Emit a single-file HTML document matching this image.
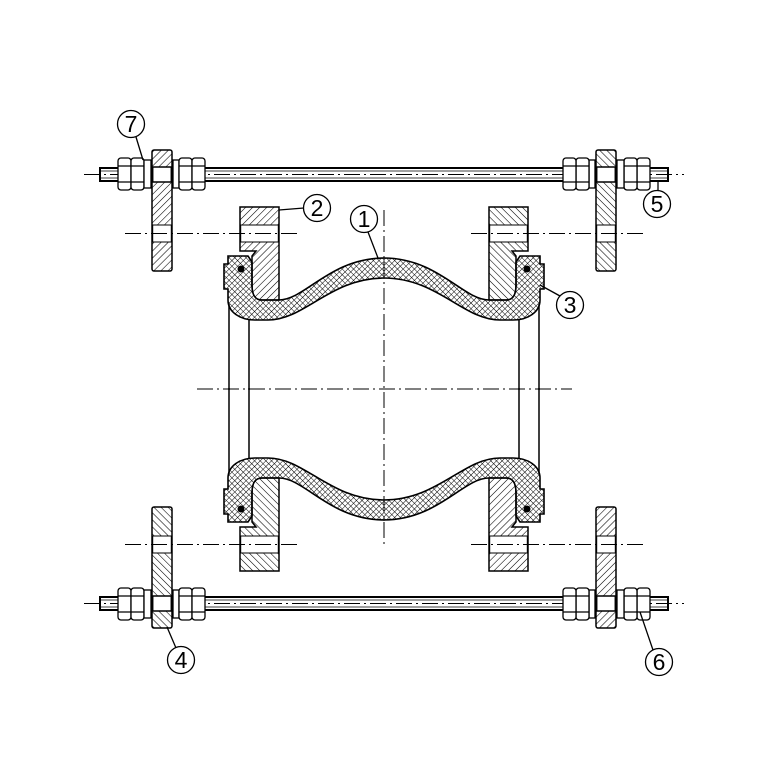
<!DOCTYPE html>
<html><head><meta charset="utf-8"><style>
html,body{margin:0;padding:0;background:#fff;}
svg{display:block;}
text{font-family:"Liberation Sans",sans-serif;font-size:23px;fill:#000;}
</style></head><body>
<svg width="768" height="768" viewBox="0 0 768 768" xmlns="http://www.w3.org/2000/svg">
<defs>
<pattern id="h" patternUnits="userSpaceOnUse" width="5" height="5" patternTransform="rotate(45)">
<line x1="0" y1="0" x2="0" y2="5" stroke="#000" stroke-width="1.1"/>
</pattern>
<pattern id="x" patternUnits="userSpaceOnUse" width="4" height="4" patternTransform="rotate(45)">
<line x1="0" y1="0" x2="0" y2="4" stroke="#000" stroke-width="1"/>
<line x1="0" y1="0" x2="4" y2="0" stroke="#000" stroke-width="1"/>
</pattern>
<g id="q">
<!-- nuts -->
<g fill="#fff" stroke="#000" stroke-width="1.3">
<rect x="118" y="158" width="13" height="32" rx="3"/>
<rect x="131" y="158" width="13" height="32" rx="3"/>
<line x1="118" y1="166" x2="144" y2="166"/><line x1="118" y1="182" x2="144" y2="182"/>
<rect x="144" y="160" width="7" height="28"/>
<rect x="173" y="160" width="6" height="28"/>
<rect x="179" y="158" width="13" height="32" rx="3"/>
<rect x="192" y="158" width="13" height="32" rx="3"/>
<line x1="179" y1="166" x2="205" y2="166"/><line x1="179" y1="182" x2="205" y2="182"/>
</g>
<!-- plate -->
<rect x="152" y="150" width="20" height="121" rx="2" fill="url(#h)" stroke="#000" stroke-width="1.5"/>
<rect x="152.7" y="167" width="18.6" height="15" fill="#fff" stroke="#000" stroke-width="1.5"/>
<rect x="152.7" y="225" width="18.6" height="17" fill="#fff" stroke="#000" stroke-width="1"/>
<!-- flange -->
<path d="M240,207 H279 V300 H262 C255,300 252,295 252,285 V256 L256,251 H240 Z" fill="url(#h)" stroke="#000" stroke-width="1.5"/>
<rect x="240.7" y="225" width="37.6" height="17" fill="#fff" stroke="#000" stroke-width="1"/>
<!-- bellows -->
<path d="M384.5,258 C330,258 305,300 279,300 L262,300 C255,300 252,295 252,285 L252,262 L248,256 L228,256 L228,264 L224,264 L224,289 L228,289 L228,300 C228,312 240,320 255,320 L268,320 C305,320 330,278 384.5,278 Z" fill="url(#x)"/>
<path d="M384.5,258 C330,258 305,300 279,300 L262,300 C255,300 252,295 252,285 L252,262 L248,256 L228,256 L228,264 L224,264 L224,289 L228,289 L228,300 C228,312 240,320 255,320 L268,320 C305,320 330,278 384.5,278" fill="none" stroke="#000" stroke-width="1.6"/>
<circle cx="241" cy="269" r="3.5" fill="#000"/>
<!-- pipe lines -->
<line x1="229" y1="304" x2="229" y2="390" stroke="#000" stroke-width="1.5"/>
<line x1="249" y1="320" x2="249" y2="390" stroke="#000" stroke-width="1.5"/>
<line x1="125" y1="233.5" x2="300" y2="233.5" stroke="#000" stroke-width="1" stroke-dasharray="16,4,2,4"/>
</g>
<g id="rod">
<rect x="100" y="168" width="568" height="13" fill="none" stroke="#000" stroke-width="2"/>
<line x1="100" y1="171" x2="668" y2="171" stroke="#000" stroke-width="0.8"/>
<line x1="100" y1="178" x2="668" y2="178" stroke="#000" stroke-width="0.8"/>
<line x1="84" y1="174.5" x2="684" y2="174.5" stroke="#000" stroke-width="1" stroke-dasharray="16,4,2,4"/>
</g>
</defs>
<use href="#rod"/>
<use href="#rod" transform="translate(0,778) scale(1,-1)"/>
<use href="#q"/>
<use href="#q" transform="translate(768,0) scale(-1,1)"/>
<use href="#q" transform="translate(0,778) scale(1,-1)"/>
<use href="#q" transform="translate(768,778) scale(-1,-1)"/>
<g stroke="#000" stroke-width="1" stroke-dasharray="16,4,2,4" fill="none">
<line x1="384" y1="210" x2="384" y2="545"/>
<line x1="197" y1="389" x2="572" y2="389"/>
</g>
<g fill="#fff" stroke="#000" stroke-width="1.3">
<line x1="143" y1="160" x2="136" y2="137"/>
<circle cx="131" cy="124" r="13.5"/>
<line x1="279" y1="210" x2="304" y2="208"/>
<circle cx="317" cy="208" r="13.5"/>
<line x1="378" y1="258" x2="368" y2="232"/>
<circle cx="364" cy="219" r="13.5"/>
<line x1="540" y1="285" x2="560" y2="296"/>
<circle cx="570" cy="305" r="13.5"/>
<line x1="658" y1="181" x2="658" y2="191"/>
<circle cx="657" cy="204" r="13.5"/>
<line x1="167" y1="627" x2="176" y2="648"/>
<circle cx="181" cy="660" r="13.5"/>
<line x1="640" y1="612" x2="653" y2="650"/>
<circle cx="659" cy="662" r="13.5"/>
</g>
<g text-anchor="middle">
<text x="131" y="132">7</text>
<text x="317" y="216">2</text>
<text x="364" y="227">1</text>
<text x="570" y="313">3</text>
<text x="657" y="212">5</text>
<text x="181" y="668">4</text>
<text x="659" y="670">6</text>
</g>
</svg>
</body></html>
